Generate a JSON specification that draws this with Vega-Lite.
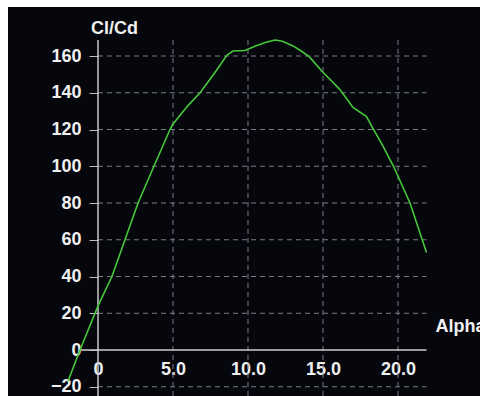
{
  "$schema": "https://vega.github.io/schema/vega-lite/v6.json",
  "width": 472,
  "height": 389,
  "autosize": "none",
  "padding": {"left": 8, "top": 7, "right": 0, "bottom": 0},
  "background": "#ffffff",
  "config": {"view": {"stroke": null, "fill": "#05070d"}, "font": "Liberation Sans"},
  "datasets": {
    "polar": [
      {"alpha": -2.0, "clcd": -17},
      {"alpha": -1.2, "clcd": 0},
      {"alpha": 0.0, "clcd": 24},
      {"alpha": 0.93, "clcd": 40},
      {"alpha": 1.8, "clcd": 60},
      {"alpha": 2.67, "clcd": 80},
      {"alpha": 3.73, "clcd": 100},
      {"alpha": 4.8, "clcd": 120},
      {"alpha": 5.0, "clcd": 123},
      {"alpha": 6.0, "clcd": 133},
      {"alpha": 6.8, "clcd": 140},
      {"alpha": 7.8, "clcd": 151},
      {"alpha": 8.6, "clcd": 160.5},
      {"alpha": 9.0, "clcd": 162.7},
      {"alpha": 9.8, "clcd": 163},
      {"alpha": 10.5, "clcd": 165.4},
      {"alpha": 11.2, "clcd": 167.5},
      {"alpha": 11.8, "clcd": 168.7},
      {"alpha": 12.3, "clcd": 168},
      {"alpha": 13.0, "clcd": 165.5},
      {"alpha": 13.5, "clcd": 163},
      {"alpha": 14.1, "clcd": 159.5},
      {"alpha": 14.9, "clcd": 152},
      {"alpha": 16.1, "clcd": 142},
      {"alpha": 17.0, "clcd": 132},
      {"alpha": 17.9, "clcd": 127},
      {"alpha": 18.3, "clcd": 121},
      {"alpha": 19.0, "clcd": 111},
      {"alpha": 19.7, "clcd": 100},
      {"alpha": 20.8, "clcd": 80},
      {"alpha": 21.9, "clcd": 53}
    ],
    "hgrid": [
      {"level": -20}, {"level": 20}, {"level": 40}, {"level": 60},
      {"level": 80}, {"level": 100}, {"level": 120}, {"level": 140}, {"level": 160}
    ],
    "vgrid": [{"alpha": 5}, {"alpha": 10}, {"alpha": 15}, {"alpha": 20}],
    "baseline": [{"from": -1.2, "to": 21.9, "level": 0}]
  },
  "layer": [
    {
      "data": {"name": "hgrid"},
      "mark": {"type": "rule", "color": "#7c7c86", "strokeWidth": 1, "strokeDash": [5, 4]},
      "encoding": {
        "x": {"datum": 0},
        "x2": {"datum": 21.9},
        "y": {"field": "level", "type": "quantitative"}
      }
    },
    {
      "data": {"name": "vgrid"},
      "mark": {"type": "rule", "color": "#7c7c86", "strokeWidth": 1, "strokeDash": [5, 4]},
      "encoding": {
        "x": {"field": "alpha", "type": "quantitative"},
        "y": {"datum": -25},
        "y2": {"datum": 168.7}
      }
    },
    {
      "data": {"name": "baseline"},
      "mark": {"type": "rule", "color": "#c8c8c8", "strokeWidth": 1.5},
      "encoding": {
        "x": {"datum": 0},
        "y": {"datum": -25},
        "y2": {"datum": 168.7}
      }
    },
    {
      "data": {"name": "baseline"},
      "mark": {"type": "rule", "color": "#cfcfcf", "strokeWidth": 1.5},
      "encoding": {
        "x": {"field": "from", "type": "quantitative"},
        "x2": {"field": "to"},
        "y": {"field": "level", "type": "quantitative"}
      }
    },
    {
      "data": {"name": "polar"},
      "mark": {"type": "line", "color": "#46c83a", "strokeWidth": 1.6},
      "encoding": {
        "x": {
          "field": "alpha",
          "type": "quantitative",
          "scale": {"domain": [-6, 25.467], "nice": false, "zero": false},
          "axis": {
            "values": [0, 5, 10, 15, 20],
            "tickCount": 20,
            "labelExpr": "datum.value == 0 ? '0' : format(datum.value, '.1f')",
            "offset": -46,
            "domain": false,
            "ticks": false,
            "grid": false,
            "labelColor": "#f0f0f0",
            "labelFontSize": 18,
            "labelFontWeight": "bold",
            "labelPadding": 10,
            "labelFlush": false,
            "labelOverlap": false,
            "labelDx": 4,
            "title": "Alpha",
            "titleColor": "#f0f0f0",
            "titleFontSize": 18,
            "titleFontWeight": "bold",
            "titleX": 427,
            "titleY": -24,
            "titleAlign": "left",
            "titleBaseline": "middle",
            "titleAngle": 0
          }
        },
        "y": {
          "field": "clcd",
          "type": "quantitative",
          "scale": {"domain": [-25.03, 186.67], "nice": false, "zero": false},
          "axis": {
            "values": [-20, 0, 20, 40, 60, 80, 100, 120, 140, 160],
            "tickCount": 20,
            "offset": -90,
            "domain": false,
            "ticks": true,
            "tickSize": 9,
            "tickColor": "#bdbdbd",
            "grid": false,
            "labelColor": "#f0f0f0",
            "labelFontSize": 18,
            "labelFontWeight": "bold",
            "labelPadding": 8,
            "labelOverlap": false,
            "labelFlush": false,
            "title": "Cl/Cd",
            "titleColor": "#f0f0f0",
            "titleFontSize": 18,
            "titleFontWeight": "bold",
            "titleAngle": 0,
            "titleX": 16,
            "titleY": 21,
            "titleAlign": "center",
            "titleBaseline": "middle"
          }
        }
      }
    }
  ]
}
